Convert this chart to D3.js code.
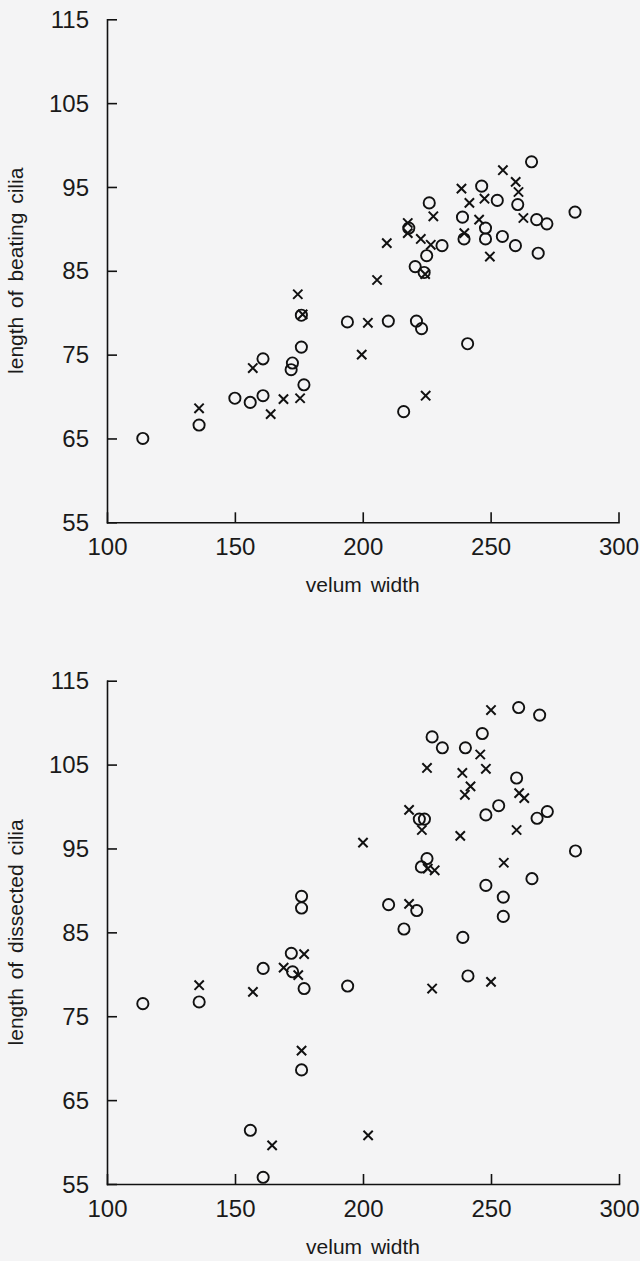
<!DOCTYPE html>
<html>
<head>
  <title>Velum width vs cilia length</title>
  <script src="https://d3js.org/d3.v7.min.js"></script>
  <style>
    body { margin: 0; background: #f4f4f5; }
    svg text { font-family: "Liberation Sans", Arial, Helvetica, sans-serif; fill: #1a1a1a; }
    .axis path, .axis line { stroke: #111; stroke-width: 1.6; }
    .axis text { font-size: 24px; }
  </style>
</head>
<body>
  <div id="chart"></div>

  <script>
    // tick values shared by both panels
    const xTicks = [100, 150, 200, 250, 300];
    const yTicks = [55, 65, 75, 85, 95, 105, 115];

    // top panel: velum width vs length of beating cilia
    const beatingCircles = [
      [114, 65.0], [136, 66.6], [150, 69.8], [156, 69.3], [161, 70.1], [161, 74.5],
      [172, 73.2], [172.5, 74.0], [176, 75.9], [176, 79.7], [177, 71.4], [194, 78.9],
      [210, 79.0], [221, 79.0], [223, 78.1], [241, 76.3], [216, 68.2], [220.5, 85.5],
      [224, 84.8], [225, 86.8], [231, 88.0], [226, 93.1], [218, 90.1], [239, 91.4],
      [239.6, 88.8], [246.5, 95.1], [248, 90.1], [248, 88.8], [252.6, 93.4], [254.6, 89.1],
      [259.7, 88.0], [260.6, 92.9], [266, 98.0], [268, 91.1], [268.6, 87.1], [272, 90.6],
      [283, 92.0]
    ];
    const beatingCrosses = [
      [136, 68.6], [157, 73.4], [164, 67.9], [169, 69.7], [175.5, 69.8], [174.6, 82.2],
      [176.5, 79.8], [202, 78.8], [199.6, 75.0], [224.6, 70.1], [205.6, 83.9], [209.4, 88.3],
      [217.6, 90.7], [217.6, 89.5], [222.7, 88.8], [226.6, 88.1], [224.4, 84.6], [227.6, 91.5],
      [238.6, 94.8], [241.7, 93.1], [247.6, 93.6], [245.5, 91.1], [239.7, 89.5], [249.7, 86.7],
      [254.8, 97.0], [259.8, 95.6], [260.9, 94.4], [262.8, 91.3]
    ];

    // bottom panel: velum width vs length of dissected cilia
    const dissectedCircles = [
      [114, 76.5], [136, 76.7], [161, 80.7], [172, 82.5], [172.5, 80.3], [177, 78.3],
      [176, 68.6], [156, 61.4], [161, 55.8], [176, 89.3], [176, 87.9], [194, 78.6],
      [241, 79.8], [210, 88.3], [221, 87.6], [216, 85.4], [239, 84.4], [254.8, 89.2],
      [254.8, 86.9], [260.8, 111.8], [269, 110.9], [227, 108.3], [231, 107.0], [240, 107.0],
      [246.6, 108.7], [260, 103.4], [224, 98.5], [222, 98.5], [253, 100.1], [248, 99.0],
      [272, 99.4], [268, 98.6], [283, 94.7], [225, 93.8], [222.8, 92.8], [266, 91.4],
      [248, 90.6]
    ];
    const dissectedCrosses = [
      [250, 111.5], [245.8, 106.2], [248, 104.5], [225, 104.6], [238.8, 104.0], [242, 102.4],
      [239.8, 101.4], [261, 101.6], [263, 101.0], [218, 99.6], [223, 97.2], [238, 96.5],
      [260, 97.2], [200, 95.7], [255, 93.3], [228, 92.4], [225.3, 92.6], [218, 88.4],
      [227, 78.3], [250, 79.1], [202, 60.8], [136, 78.7], [157, 77.9], [169, 80.8],
      [174.7, 79.9], [177, 82.4], [176, 70.9], [164.5, 59.6]
    ];

    const svg = d3.select("#chart")
      .append("svg")
      .attr("width", 640)
      .attr("height", 1261);

    function drawPanel(circles, crosses, yLabel, box) {
      const x = d3.scaleLinear().domain([100, 300]).range([box.left, box.right]);
      const y = d3.scaleLinear().domain([55, 115]).range([box.bottom, box.top]);

      const g = svg.append("g");

      g.append("g")
        .attr("class", "axis")
        .attr("transform", `translate(${box.left},0)`)
        .call(d3.axisLeft(y).tickValues(yTicks).tickSizeInner(-10).tickSizeOuter(0).tickPadding(18).tickFormat(d3.format("d")))
        .call(a => a.selectAll("text").attr("dy", "0.34em"));

      g.append("g")
        .attr("class", "axis")
        .attr("transform", `translate(0,${box.bottom})`)
        .call(d3.axisBottom(x).tickValues(xTicks).tickSizeInner(-10).tickSizeOuter(0).tickPadding(16).tickFormat(d3.format("d")));

      g.selectAll(".axis .domain").attr("stroke-linecap", "square");

      g.selectAll(".pt-o")
        .data(circles)
        .enter().append("circle")
        .attr("class", "pt-o")
        .attr("cx", d => x(d[0]))
        .attr("cy", d => y(d[1]))
        .attr("r", 5.6)
        .attr("fill", "none")
        .attr("stroke", "#111")
        .attr("stroke-width", 1.9);

      const cross = d3.symbol(d3.symbolX, 58);
      g.selectAll(".pt-x")
        .data(crosses)
        .enter().append("path")
        .attr("class", "pt-x")
        .attr("d", cross)
        .attr("transform", d => `translate(${x(d[0])},${y(d[1])})`)
        .attr("fill", "none")
        .attr("stroke", "#111")
        .attr("stroke-width", 2);

      // axis titles
      g.append("text")
        .attr("x", (box.left + box.right) / 2)
        .attr("y", box.bottom + 70)
        .attr("text-anchor", "middle")
        .attr("font-size", 21)
        .attr("word-spacing", 3)
        .text("velum width");

      g.append("text")
        .attr("transform", `translate(23,${(box.top + box.bottom) / 2}) rotate(-90)`)
        .attr("text-anchor", "middle")
        .attr("font-size", 21)
        .attr("word-spacing", 3)
        .text(yLabel);
    }

    drawPanel(beatingCircles, beatingCrosses, "length of beating cilia",
      { left: 107, right: 618.5, top: 19.3, bottom: 522.3 });
    drawPanel(dissectedCircles, dissectedCrosses, "length of dissected cilia",
      { left: 107, right: 619, top: 680.7, bottom: 1184 });
  </script>
</body>
</html>
